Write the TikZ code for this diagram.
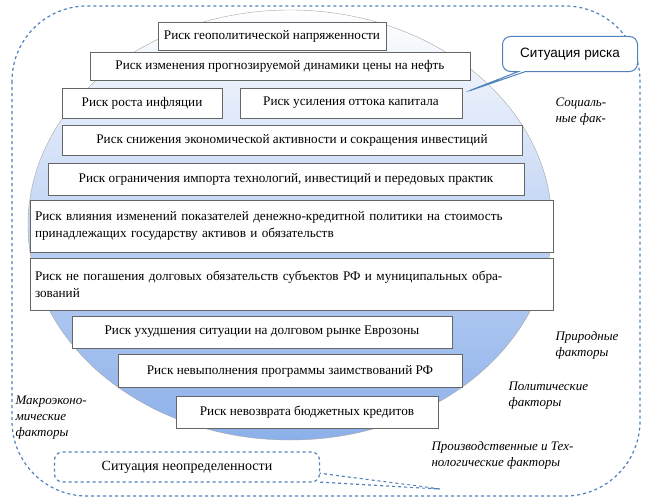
\documentclass[tikz,border=0pt]{standalone}
\usepackage{fontspec}
\setmainfont{Liberation Serif}
\newfontfamily\serf{Liberation Serif}
\newfontfamily\sansf{Liberation Sans}
\usetikzlibrary{shapes.callouts}
\definecolor{fr}{HTML}{4F81BD}
\definecolor{ellb}{HTML}{8CB0EA}
\tikzset{rbox/.style={draw=gray!80!black,fill=white,inner sep=0pt,font=\serf\fontsize{13.2}{17}\selectfont,align=left},
lab/.style={font=\serf\itshape\fontsize{13}{16}\selectfont,align=left,anchor=north west}}
\begin{document}
\begin{tikzpicture}[x=1pt,y=-1pt]
\useasboundingbox (0,0) rectangle (647,503);
\draw[fr,dashed,line width=1.2pt,rounded corners=75pt] (12,6) rectangle (640,496);
\shade[top color=white,bottom color=ellb,middle color=ellb!55,draw=gray!70] (290,225) ellipse (262 and 215);
\node[draw=fr,line width=1pt,fill=white,rounded corners=8pt,rectangle callout,callout absolute pointer={(466,92)},minimum width=135,minimum height=35,font=\sansf\fontsize{13.5}{15}\selectfont] (cr) at (570,54) {Ситуация риска};
\coordinate (tip) at (440,489);
\draw[fr,dashed,line width=1.2pt,fill=white] (318,473) -- (tip) -- (318,482);
\node[draw=fr,dashed,line width=1.2pt,fill=white,rounded corners=8pt,minimum width=265,minimum height=30,font=\serf\fontsize{14}{15}\selectfont] (cu) at (187,467) {Ситуация неопределенности};
\fill[white] (320.5,474.5) -- (430,488) -- (320.5,480.5) -- cycle;
\node[rbox,minimum width=228,minimum height=28] (r1) at (272,36) {Риск геополитической напряженности};
\node[rbox,minimum width=380,minimum height=28] (r2) at (280,66) {Риск изменения прогнозируемой динамики цены на нефть};
\node[rbox,minimum width=160,minimum height=30] (r3) at (142,103) {Риск роста инфляции};
\node[rbox,minimum width=222,minimum height=30] (r4) at (351,103) {Риск усиления оттока капитала};
\node[rbox,minimum width=460,minimum height=30] (r5) at (292,140) {Риск снижения экономической активности и сокращения инвестиций};
\node[rbox,minimum width=476,minimum height=32] (r6) at (286,179) {Риск ограничения импорта технологий, инвестиций и передовых практик};
\node[rbox,text width=513,inner xsep=5pt,minimum height=52] (r7) at (291.5,226) {Риск влияния изменений показателей денежно-кредитной политики на стоимость\\принадлежащих государству активов и обязательств};
\node[rbox,text width=513,inner xsep=5pt,minimum height=52] (r8) at (291.5,284) {Риск не погашения долговых обязательств субъектов РФ и муниципальных обра-\\зований};
\node[rbox,minimum width=380,minimum height=32] (r9) at (262,332) {Риск ухудшения ситуации на долговом рынке Еврозоны};
\node[rbox,minimum width=344,minimum height=33] (r10) at (290,371) {Риск невыполнения программы заимствований РФ};
\node[rbox,minimum width=262,minimum height=32] (r11) at (307,412) {Риск невозврата бюджетных кредитов};
\node[lab] (l1) at (552,94) {Социаль-\\ные фак-};
\node[lab] (l2) at (552,328) {Природные\\факторы};
\node[lab] (l3) at (505,378) {Политические\\факторы};
\node[lab] (l4) at (12,392) {Макроэконо-\\мические\\факторы};
\node[lab] (l5) at (428,438) {Производственные и Тех-\\нологические факторы};
\end{tikzpicture}
\end{document}
